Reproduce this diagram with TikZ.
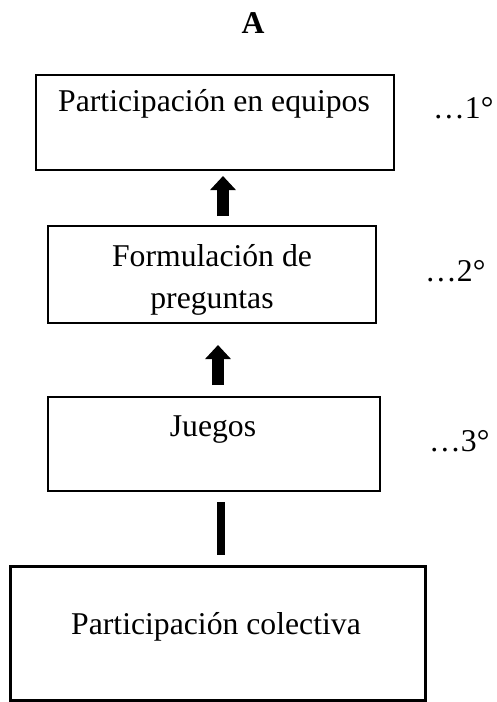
\documentclass[tikz,border=0pt]{standalone}
\usepackage{fontspec}
\setmainfont{Liberation Serif}
\usetikzlibrary{arrows.meta}
\begin{document}
\begin{tikzpicture}[x=1pt,y=-1pt,
  box/.style={draw=black,line width=2pt,inner sep=0pt,fill=none},
  bigbox/.style={draw=black,line width=3pt,inner sep=0pt},
  txt/.style={inner sep=0pt,anchor=base,font=\fontsize{31.7}{42}\selectfont},
  lbl/.style={inner sep=0pt,anchor=base west,font=\fontsize{31.7}{42}\selectfont},
  blockarrow/.style={line width=12pt,-{Triangle[width=25pt,length=14pt]}},
  bar/.style={line width=8pt}]
\useasboundingbox (0,0) rectangle (497,702);
% boxes
\node[box,minimum width=358pt,minimum height=95pt] (b1) at (215,122.5) {};
\node[box,minimum width=328pt,minimum height=97pt] (b2) at (212,274.5) {};
\node[box,minimum width=332pt,minimum height=94pt] (b3) at (214,444) {};
\node[bigbox,minimum width=415pt,minimum height=134pt] (b4) at (218,633) {};
% texts
\node[txt,font=\fontsize{31.7}{42}\selectfont\bfseries] (ta) at (253,33) {A};
\node[txt] (t1) at (214,111) {Participación en equipos};
\node[txt] (t2a) at (212,266) {Formulación de};
\node[txt] (t2b) at (212,308) {preguntas};
\node[txt] (t3) at (213,436) {Juegos};
\node[txt] (t4) at (216,634) {Participación colectiva};
\node[lbl] (l1) at (433,118) {…1°};
\node[lbl] (l2) at (425,281) {…2°};
\node[lbl] (l3) at (429,451) {…3°};
% connectors
\coordinate (x1) at (223,0);
\coordinate (x2) at (218,0);
\coordinate (x3) at (221,0);
\draw[blockarrow,shorten <=9pt,shorten >=5pt] (x1 |- b2.north) -- (x1 |- b1.south);
\draw[blockarrow,shorten <=11pt,shorten >=21pt] (x2 |- b3.north) -- (x2 |- b2.south);
\draw[bar,shorten <=10pt,shorten >=10pt] (x3 |- b4.north) -- (x3 |- b3.south);
\end{tikzpicture}
\end{document}
